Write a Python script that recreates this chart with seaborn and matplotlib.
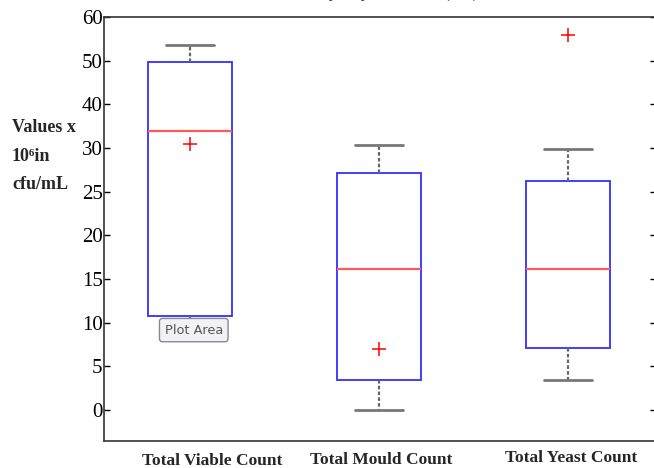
import numpy as np
import seaborn as sns
import matplotlib.pyplot as plt
import pandas as pd

# data (values in 10^6 cfu/mL)
groups = ['Total Viable Count', 'Total Mould Count', 'Total Yeast Count']
q1 = [10.8, 3.4, 7.1]
median = [33.8, 16.1, 16.1]
q3 = [49.8, 27.1, 26.2]
whislo = [10.2, 0.0, 3.4]
whishi = [53.6, 30.7, 29.9]
means = [30.9, 7.0, 55.8]
ytick_vals = [0, 5, 10, 15, 20, 25, 30, 40, 50, 60]

sns.set_theme(style='white')
plt.rcParams['font.family'] = ['Liberation Serif', 'DejaVu Serif']

# the axis is stretched below 30: 5 per step up to 30, then 10 per step
lab_pts = [-100, 0, 30, 120]
pos_pts = [-20, 0, 6, 15]
def fwd(v):
    return np.interp(v, lab_pts, pos_pts)
def inv(p):
    return np.interp(p, pos_pts, lab_pts)

fig = plt.figure(figsize=(6.54, 4.68), dpi=100)
ax = fig.add_axes([104/654, 27/468, 552/654, 424/468])
ax.set_yscale('function', functions=(fwd, inv))

stats = []
for i, g in enumerate(groups):
    stats.append(dict(label=g, q1=q1[i], med=median[i], q3=q3[i],
                      whislo=whislo[i], whishi=whishi[i], fliers=[]))

ax.bxp(stats, positions=[0, 1, 2], widths=0.445, showfliers=False,
       patch_artist=True,
       boxprops=dict(facecolor='white', edgecolor='#3030ff', linewidth=1.3),
       medianprops=dict(color='#ff5a5a', linewidth=1.6),
       whiskerprops=dict(color='#666666', linewidth=1.6, linestyle=(0, (1.6, 1))),
       capprops=dict(color='#777777', linewidth=2.0),
       capwidths=0.25, zorder=2)

mdf = pd.DataFrame({'pos': [0, 1, 2], 'mean': means})
sns.scatterplot(data=mdf, x='pos', y='mean', marker='+', color='red',
                s=90, linewidth=1.1, ax=ax, zorder=3)

ax.set_xlim(-0.455, 2.466)
ax.set_ylim(-3.55, 60)
ax.set_yticks(ytick_vals)
ax.set_yticklabels([str(v) for v in ytick_vals])
ax.set_xticks([])
ax.set_xlabel('')
ax.set_ylabel('')
ax.tick_params(axis='y', direction='in', length=4, width=1, pad=1,
               labelsize=15, colors='black', left=True, right=True)
for s in ax.spines.values():
    s.set_color('#333333')
    s.set_linewidth(1.2)
ax.spines['right'].set_visible(False)

# tooltip left over in the screenshot
ax.text(0.02, 9.15, 'Plot Area', family='DejaVu Sans', fontsize=9.3,
        color='#555555', ha='center', va='center', zorder=4,
        bbox=dict(boxstyle='round,pad=0.4,rounding_size=0.25',
                  facecolor='#f2f2f6', edgecolor='#8a8a8a', linewidth=1))

# y axis label, three lines
fig.text(12/654, 1 - 128/468, 'Values x', fontsize=13, fontweight='bold', va='center')
fig.text(12/654, 1 - 157/468, '10\u2076in', fontsize=13, fontweight='bold', va='center')
fig.text(12/654, 1 - 185/468, 'cfu/mL', fontsize=13, fontweight='bold', va='center')

# category labels
fig.text(212/654, 1 - 461/468, groups[0], fontsize=12.5, fontweight='bold', ha='center', va='center')
fig.text(381/654, 1 - 460/468, groups[1], fontsize=12.5, fontweight='bold', ha='center', va='center')
fig.text(571/654, 1 - 458/468, groups[2], fontsize=12.5, fontweight='bold', ha='center', va='center')

# title, cut off by the top edge
fig.text(344/654, 1 + 3/468, 'Microbial Quality of juice drink (cfu)', fontsize=13,
         ha='center', va='baseline')

fig.savefig('out.png', dpi=100)
